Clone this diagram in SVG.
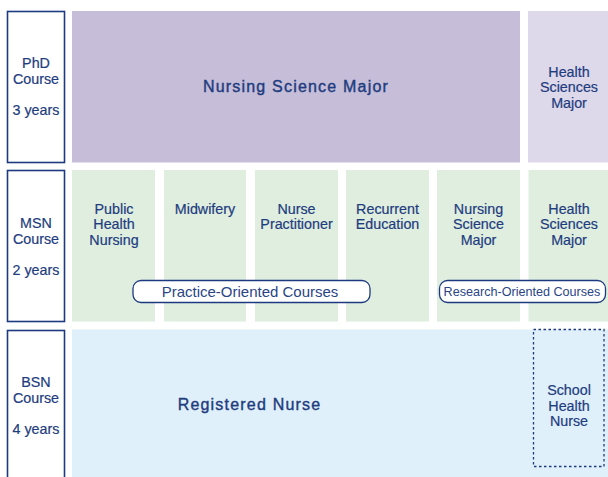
<svg xmlns="http://www.w3.org/2000/svg" width="608" height="477" viewBox="0 0 608 477">
<style>
text{font-family:"Liberation Sans",Arial,sans-serif;fill:#1e3c7e;text-anchor:middle}
.s{font-size:14.3px;stroke:#1e3c7e;stroke-width:0.2}
.b{font-size:16px;letter-spacing:1.2px;stroke:#1e3c7e;stroke-width:0.4}
.p{font-size:15px;fill:#2a4585}
.p2{font-size:12.6px;fill:#2a4585}
.lab{fill:#fff;stroke:#1d3a80;stroke-width:1.6}
.pill{fill:#fff;stroke:#1d3a80;stroke-width:1.3}
.g{fill:#dfeedf}
</style>
<rect width="608" height="477" fill="#fff"/>
<g id="phd-label"><rect class="lab" x="7.5" y="11.5" width="57" height="151"/>
<text class="s" x="36" y="67.5">PhD</text><text class="s" x="36" y="83.5">Course</text><text class="s" x="36" y="115">3 years</text></g>
<g id="msn-label"><rect class="lab" x="7.5" y="170.5" width="57" height="151"/>
<text class="s" x="36" y="227.5">MSN</text><text class="s" x="36" y="243.5">Course</text><text class="s" x="36" y="275">2 years</text></g>
<g id="bsn-label"><rect class="lab" x="7.5" y="330.5" width="57" height="150"/>
<text class="s" x="36" y="386.5">BSN</text><text class="s" x="36" y="402.5">Course</text><text class="s" x="36" y="434">4 years</text></g>
<g id="phd-nursing"><rect x="72" y="11" width="448" height="151.5" fill="#c6bdd9"/>
<text class="b" x="296" y="91.5">Nursing Science Major</text></g>
<g id="phd-health"><rect x="528" y="11" width="80" height="151.5" fill="#ddd8ea"/>
<text class="s" x="569" y="76.5">Health</text><text class="s" x="569" y="92">Sciences</text><text class="s" x="569" y="107.5">Major</text></g>
<g id="msn-public"><rect class="g" x="72" y="170" width="83" height="151.5"/>
<text class="s" x="114" y="213.5">Public</text><text class="s" x="114" y="229">Health</text><text class="s" x="114" y="244.5">Nursing</text></g>
<g id="msn-midwifery"><rect class="g" x="164" y="170" width="82" height="151.5"/>
<text class="s" x="205" y="213.5">Midwifery</text></g>
<g id="msn-np"><rect class="g" x="255" y="170" width="83" height="151.5"/>
<text class="s" x="296.5" y="213.5">Nurse</text><text class="s" x="296.5" y="229">Practitioner</text></g>
<g id="msn-recurrent"><rect class="g" x="346" y="170" width="83" height="151.5"/>
<text class="s" x="387.5" y="213.5">Recurrent</text><text class="s" x="387.5" y="229">Education</text></g>
<g id="msn-nursing"><rect class="g" x="437" y="170" width="83" height="151.5"/>
<text class="s" x="478.5" y="213.5">Nursing</text><text class="s" x="478.5" y="229">Science</text><text class="s" x="478.5" y="244.5">Major</text></g>
<g id="msn-health"><rect class="g" x="528.5" y="170" width="79.5" height="151.5"/>
<text class="s" x="569" y="213.5">Health</text><text class="s" x="569" y="229">Sciences</text><text class="s" x="569" y="244.5">Major</text></g>
<g id="practice-pill"><rect class="pill" x="133" y="280.5" width="237" height="22" rx="8"/>
<text class="p" x="250" y="297">Practice-Oriented Courses</text></g>
<g id="research-pill"><rect class="pill" x="439.5" y="280.5" width="166" height="22" rx="8"/>
<text class="p2" x="522" y="296">Research-Oriented Courses</text></g>
<g id="bsn-rn"><rect x="72" y="329.5" width="536" height="147.5" fill="#dff0fa"/>
<text class="b" x="249.5" y="410">Registered Nurse</text></g>
<g id="bsn-school"><rect x="533.5" y="329.5" width="70.5" height="137" fill="none" stroke="#1d3a80" stroke-width="1.3" stroke-dasharray="2.5 2.5"/>
<text class="s" x="569" y="395">School</text><text class="s" x="569" y="410.5">Health</text><text class="s" x="569" y="426">Nurse</text></g>
<g id="connectors"></g>
</svg>
